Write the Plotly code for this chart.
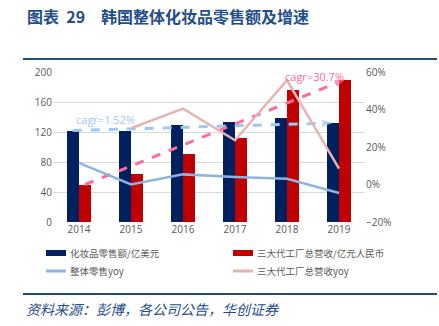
import plotly.graph_objects as go

years = ["2014", "2015", "2016", "2017", "2018", "2019"]
retail_usd = [122, 122, 129, 134, 139, 132]          # 化妆品零售额/亿美元
factory_rmb = [50, 64.5, 91, 112.5, 175.5, 190]      # 三大代工厂总营收/亿元人民币
retail_yoy = [0.115, 0.0, 0.054, 0.04, 0.031, -0.045]  # 整体零售yoy
factory_yoy = [None, 0.30, 0.405, 0.236, 0.556, 0.085]  # 三大代工厂总营收yoy
names = ["化妆品零售额/亿美元", "三大代工厂总营收/亿元人民币", "整体零售yoy", "三大代工厂总营收yoy"]
cagr_labels = ["cagr=1.52%", "cagr=30.7%"]

NAVY = "#002060"
RED = "#c00000"
LBLUE = "#8db4e2"
LPINK = "#e6b4b4"
DBLUE_DASH = "#9dc8f2"
PINK_DASH = "#ff6b9d"
TITLE_C = "#1f4e8c"
GRAY = "#595959"

x = list(range(len(years)))
bw = 0.24

W, H = 439, 326
ML, MR, MT, MB = 53, 74, 72, 104
PW, PH = W - ML - MR, H - MT - MB
def px(xp): return (xp - ML) / PW
def py(yp): return (H - MB - yp) / PH

fig = go.Figure()
fig.add_trace(go.Bar(x=x, y=retail_usd, width=bw, offset=-bw, marker_color=NAVY,
                     marker_line_width=0, name=names[0], showlegend=False))
fig.add_trace(go.Bar(x=x, y=factory_rmb, width=bw, offset=0, marker_color=RED,
                     marker_line_width=0, name=names[1], showlegend=False))
fig.add_trace(go.Scatter(x=x, y=retail_yoy, yaxis="y2", mode="lines",
                         line=dict(color=LBLUE, width=2.5), name=names[2], showlegend=False))
fig.add_trace(go.Scatter(x=x, y=factory_yoy, yaxis="y2", mode="lines",
                         line=dict(color=LPINK, width=2.5), name=names[3], showlegend=False))

# CAGR dashed arrows between first and last bar tops
for vals, off, col in [(retail_usd, -bw / 2, DBLUE_DASH), (factory_rmb, bw / 2, PINK_DASH)]:
    fig.add_trace(go.Scatter(x=[x[0] + off, x[-1] + off], y=[vals[0], vals[-1]], mode="lines+markers",
                             line=dict(color=col, width=3, dash="dash"),
                             marker=dict(symbol=["circle", "arrow"], size=[0, 11], color=col,
                                         angleref="previous", line_width=0),
                             showlegend=False, hoverinfo="skip", cliponaxis=False))

fig.add_annotation(x=0.5, y=137, text=cagr_labels[0], showarrow=False,
                   font=dict(color=DBLUE_DASH, size=11, family="Open Sans"), xanchor="center", yanchor="middle")
fig.add_annotation(x=4.52, y=194, text=cagr_labels[1], showarrow=False,
                   font=dict(color=PINK_DASH, size=11, family="Open Sans"), xanchor="center", yanchor="middle")

# Title
fig.add_annotation(xref="paper", yref="paper", x=px(25), y=py(16), text="<b>图表  29</b>",
                   showarrow=False, xanchor="left", yanchor="middle",
                   font=dict(size=16, color=TITLE_C, family="Noto Sans CJK SC"))
fig.add_annotation(xref="paper", yref="paper", x=px(99), y=py(16), text="<b>韩国整体化妆品零售额及增速</b>",
                   showarrow=False, xanchor="left", yanchor="middle",
                   font=dict(size=16, color=TITLE_C, family="Noto Sans CJK SC"))
# Source
fig.add_annotation(xref="paper", yref="paper", x=px(24), y=py(309), text="<i>资料来源：彭博，各公司公告，华创证券</i>",
                   showarrow=False, xanchor="left", yanchor="middle",
                   font=dict(size=14, color=TITLE_C, family="Noto Sans CJK SC"))

shapes = [
    dict(type="line", xref="paper", yref="paper", x0=px(23), x1=px(437), y0=py(59), y1=py(59),
         line=dict(color="#1f4e79", width=2)),
    dict(type="line", xref="paper", yref="paper", x0=px(23), x1=px(437), y0=py(294), y1=py(294),
         line=dict(color="#1f4e79", width=2)),
]
# Legend (manual)
leg = [(46, 253, NAVY, "bar", names[0]), (233, 253, RED, "bar", names[1]),
       (46, 271, LBLUE, "line", names[2]), (233, 271, LPINK, "line", names[3])]
for lx, ly, col, kind, name in leg:
    if kind == "bar":
        shapes.append(dict(type="rect", xref="paper", yref="paper", x0=px(lx), x1=px(lx + 20),
                           y0=py(ly + 3), y1=py(ly - 3), fillcolor=col, line_width=0))
    else:
        shapes.append(dict(type="line", xref="paper", yref="paper", x0=px(lx), x1=px(lx + 20),
                           y0=py(ly), y1=py(ly), line=dict(color=col, width=3)))
    fig.add_annotation(xref="paper", yref="paper", x=px(lx + 22), y=py(ly), text=name, showarrow=False,
                       xanchor="left", yanchor="middle",
                       font=dict(size=9.5, color=GRAY, family="Noto Sans CJK SC"))

fig.update_layout(
    width=W, height=H, margin=dict(l=ML, r=MR, t=MT, b=MB),
    paper_bgcolor="white", plot_bgcolor="white", shapes=shapes,
    showlegend=False, bargap=0,
    xaxis=dict(range=[-0.5, 5.5], tickvals=x, ticktext=years, showgrid=False, zeroline=False,
               showline=False, ticks="", tickfont=dict(size=10, color=GRAY, family="Open Sans")),
    yaxis=dict(range=[0, 200], dtick=40, showgrid=True, gridcolor="#d9d9d9", gridwidth=1,
               zeroline=False, showline=False, ticks="",
               tickfont=dict(size=10, color=GRAY, family="Open Sans")),
    yaxis2=dict(range=[-0.2, 0.6], dtick=0.2, tickformat=".0%", overlaying="y", side="right",
                showgrid=False, zeroline=False, showline=False, ticks="",
                tickfont=dict(size=10, color=GRAY, family="Open Sans")),
)
fig.write_html("out.html")
